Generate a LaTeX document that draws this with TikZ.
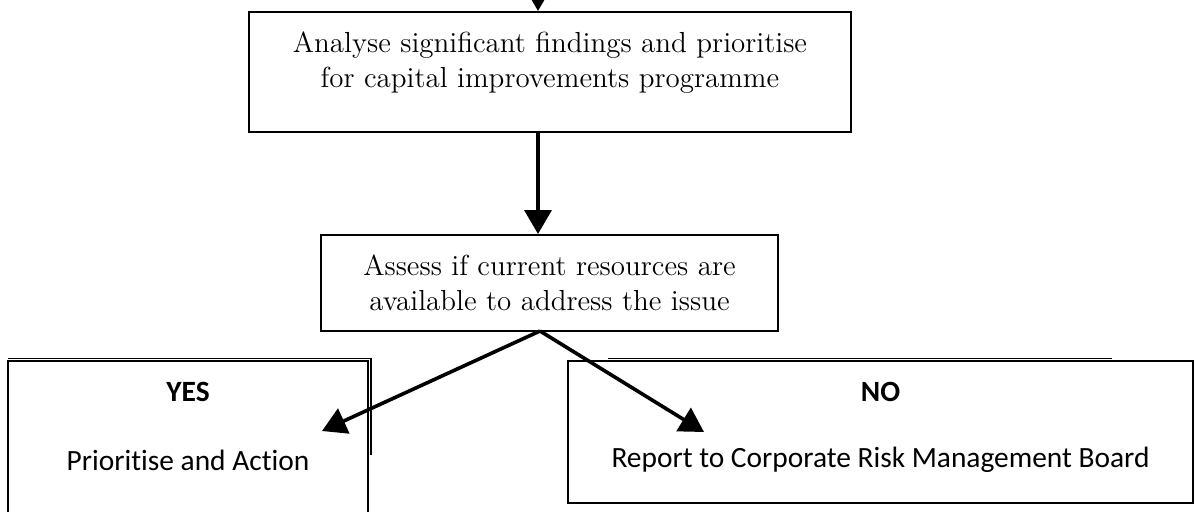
\documentclass[tikz,border=0pt]{standalone}
\usepackage{fontspec}
\setsansfont[Ligatures=NoCommon]{Carlito}
\usetikzlibrary{arrows.meta,positioning}

\begin{document}
\begin{tikzpicture}[x=0.5pt,y=-0.5pt,>={Triangle[length=12pt,width=13.5pt]},
  box/.style={draw,line width=1pt,inner sep=0pt},
  flow/.style={->,line width=1.8pt},
  serif/.style={align=center,font=\fontsize{14.5}{17.5}\selectfont},
  sans/.style={font=\sffamily\fontsize{14.7}{17}\selectfont},
  head/.style={font=\sffamily\bfseries\fontsize{14.7}{17}\selectfont}]
\useasboundingbox (0,0) rectangle (1196,511);
% boxes
\node[box,minimum width=301pt,minimum height=60pt] (analyse) at (550,72) {};
\node[serif] (analyseT) at (550,62.5) {Analyse significant findings and prioritise\\for capital improvements programme};
\node[box,minimum width=228.5pt,minimum height=48pt] (assess) at (549.5,283) {};
\node[serif] (assessT) at (549.5,282.5) {Assess if current resources are\\available to address the issue};
\node[box,minimum width=180pt,minimum height=84.5pt] (yes) at (188,445.5) {};
\node[box,minimum width=312.5pt,minimum height=71pt] (no) at (880.5,432) {};
\draw[line width=0.6pt] (8,358.5) -- (371,358.5) -- (371,455);
\draw[line width=0.6pt] (608,358.5) -- (1112,358.5);
\node[head] (yesT) at (188,392) {YES};
\node[sans] (yesAct) at (188,460) {Prioritise and Action};
\node[head] (noT) at (880.5,392) {NO};
\node[sans] (noAct) at (880.5,460) {Report to Corporate Risk Management Board};
% arrows
\coordinate (in) at (538,-40);
\coordinate (fork) at (540,331);
\coordinate (yesTip) at (322,431);
\coordinate (noTip) at (704,432);
\draw[flow] (in) -- (in |- analyse.north);
\draw[flow] (analyse.south -| in) -- (assess.north -| in);
\draw[flow] (fork) -- (yesTip);
\draw[flow] (fork) -- (noTip);
\end{tikzpicture}
\end{document}
